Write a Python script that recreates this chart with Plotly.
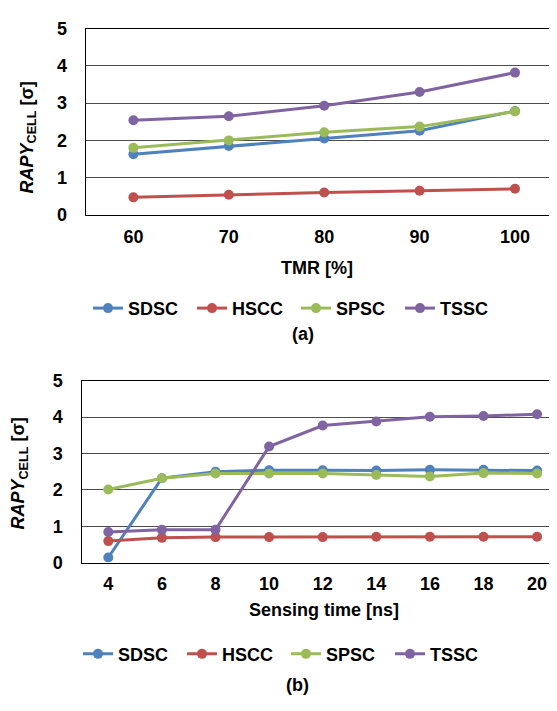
import plotly.graph_objects as go

# The page body adds an 8 px margin, so the figure is drawn 8 px smaller on
# each side and every reference pixel position is shifted by -8.
OFF = 8
W, H = 557 - 2 * OFF, 711 - 2 * OFF

# ---------------- data ----------------
series_names = ["SDSC", "HSCC", "SPSC", "TSSC"]
colors = ["#4F81BD", "#C0504D", "#9BBB59", "#8064A2"]

tmr = [60, 70, 80, 90, 100]
tmr_sdsc = [1.63, 1.85, 2.05, 2.26, 2.79]
tmr_hscc = [0.47, 0.54, 0.60, 0.65, 0.70]
tmr_spsc = [1.80, 2.00, 2.22, 2.37, 2.78]
tmr_tssc = [2.54, 2.65, 2.93, 3.30, 3.82]

st = [4, 6, 8, 10, 12, 14, 16, 18, 20]
st_sdsc = [0.14, 2.32, 2.50, 2.54, 2.54, 2.53, 2.55, 2.55, 2.53]
st_hscc = [0.59, 0.68, 0.70, 0.70, 0.70, 0.71, 0.71, 0.71, 0.71]
st_spsc = [2.01, 2.32, 2.45, 2.45, 2.45, 2.41, 2.37, 2.46, 2.45]
st_tssc = [0.84, 0.90, 0.90, 3.19, 3.77, 3.88, 4.01, 4.03, 4.08]

y_ticks = [0, 1, 2, 3, 4, 5]

FONT = "Liberation Sans, Arial, sans-serif"

fig = go.Figure()

top_vals = [tmr_sdsc, tmr_hscc, tmr_spsc, tmr_tssc]
bot_vals = [st_sdsc, st_hscc, st_spsc, st_tssc]

for name, c, v in zip(series_names, colors, top_vals):
    fig.add_trace(go.Scatter(x=tmr, y=v, name=name, mode="lines+markers",
                             line=dict(color=c, width=3), marker=dict(size=10, color=c),
                             xaxis="x", yaxis="y", legend="legend"))
for name, c, v in zip(series_names, colors, bot_vals):
    fig.add_trace(go.Scatter(x=st, y=v, name=name, mode="lines+markers",
                             line=dict(color=c, width=3), marker=dict(size=10, color=c),
                             xaxis="x2", yaxis="y2", legend="legend2"))


def px(x):
    return (x - OFF) / W


def py(y):
    return 1 - (y - OFF) / H


tickfont = dict(family=FONT, size=18, color="black", weight="bold")
legfont = dict(family=FONT, size=18, color="black", weight="bold")
grid = "#4d4d4d"

# chart geometry in reference pixels
t_left, t_top, t_bot = 85.7, 19.0, 210.7
b_left, b_top, b_bot = 81.5, 381.5, 568.7
t_unit = 9.54   # px per TMR %
b_unit = 26.8   # px per ns
right_edge = OFF + W

fig.update_layout(
    width=W, height=H, margin=dict(l=0, r=0, t=0, b=0),
    paper_bgcolor="white", plot_bgcolor="white",
    font=dict(family=FONT, size=18, color="black"),
    xaxis=dict(domain=[px(t_left), 1], range=[55, 55 + (right_edge - t_left) / t_unit],
               tickvals=tmr, showgrid=False, showline=True, linecolor="black", linewidth=1.3,
               mirror=True, ticks="", tickfont=tickfont, ticklabelstandoff=5, anchor="y",
               zeroline=False),
    yaxis=dict(domain=[py(t_bot), py(t_top)], range=[0, 5], tickvals=y_ticks,
               showgrid=True, gridcolor=grid, gridwidth=1, showline=True, linecolor="black",
               linewidth=1.3, ticks="", tickfont=tickfont, ticklabelstandoff=14, anchor="x",
               zeroline=False),
    xaxis2=dict(domain=[px(b_left), 1], range=[3, 3 + (right_edge - b_left) / b_unit],
                tickvals=st, showgrid=False, showline=True, linecolor="black", linewidth=1.3,
                mirror=True, ticks="", tickfont=tickfont, ticklabelstandoff=5, anchor="y2",
                zeroline=False),
    yaxis2=dict(domain=[py(b_bot), py(b_top)], range=[0, 5], tickvals=y_ticks,
                showgrid=True, gridcolor=grid, gridwidth=1, showline=True, linecolor="black",
                linewidth=1.3, ticks="", tickfont=tickfont, ticklabelstandoff=14, anchor="x2",
                zeroline=False),
    legend=dict(orientation="h", x=px(88), y=py(307), xanchor="left", yanchor="middle",
                font=legfont, bgcolor="rgba(0,0,0,0)", entrywidth=59,
                entrywidthmode="pixels"),
    legend2=dict(orientation="h", x=px(78), y=py(663), xanchor="left", yanchor="middle",
                 font=legfont, bgcolor="rgba(0,0,0,0)", entrywidth=59,
                 entrywidthmode="pixels"),
    showlegend=True,
)

ytitle = "<b><i>RAPY</i><sub>CELL</sub> [σ]</b>"
ann = [
    dict(text="<b>TMR [%]</b>", x=px(317), y=py(265)),
    dict(text="<b>Sensing time [ns]</b>", x=px(324), y=py(618)),
    dict(text="<b>(a)</b>", x=px(303), y=py(333)),
    dict(text="<b>(b)</b>", x=px(297), y=py(695)),
    dict(text=ytitle, x=px(28), y=py(131), textangle=-90),
    dict(text=ytitle, x=px(20), y=py(477), textangle=-90),
]
for a in ann:
    fig.add_annotation(xref="paper", yref="paper", xanchor="center", yanchor="middle",
                       showarrow=False, font=dict(family=FONT, size=18, color="black"), **a)

fig.write_html("out.html")
